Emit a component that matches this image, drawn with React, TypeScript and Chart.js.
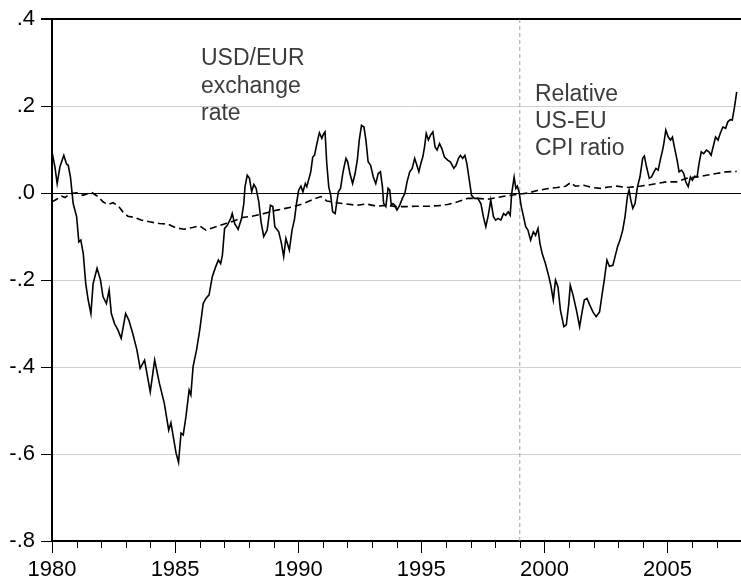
import React, { useEffect, useRef } from "react";
import { Chart, registerables } from "chart.js";

Chart.register(...registerables);

// USD/EUR exchange rate (log deviation)
const fxYears = [
  1980.0, 1980.12, 1980.21, 1980.32, 1980.48, 1980.59, 1980.66, 1980.75, 1980.86, 1981.0,
  1981.09, 1981.17, 1981.27, 1981.37, 1981.47, 1981.58, 1981.67, 1981.83, 1981.97, 1982.07,
  1982.21, 1982.32, 1982.41, 1982.54, 1982.68, 1982.81, 1982.99, 1983.12, 1983.28, 1983.45,
  1983.58, 1983.76, 1983.99, 1984.17, 1984.36, 1984.56, 1984.74, 1984.83, 1984.97, 1985.04,
  1985.14, 1985.24, 1985.33, 1985.44, 1985.57, 1985.64, 1985.73, 1985.87, 1986.0, 1986.14,
  1986.25, 1986.38, 1986.51, 1986.65, 1986.76, 1986.85, 1986.92, 1987.01, 1987.12, 1987.26,
  1987.32, 1987.42, 1987.56, 1987.7, 1987.79, 1987.84, 1987.93, 1988.02, 1988.11, 1988.2,
  1988.29, 1988.4, 1988.49, 1988.6, 1988.74, 1988.87, 1988.97, 1989.05, 1989.21, 1989.32,
  1989.41, 1989.5, 1989.64, 1989.75, 1989.85, 1989.93, 1990.02, 1990.11, 1990.19, 1990.29,
  1990.35, 1990.42, 1990.51, 1990.59, 1990.66, 1990.76, 1990.86, 1990.96, 1991.03, 1991.09,
  1991.16, 1991.24, 1991.32, 1991.4, 1991.5, 1991.56, 1991.63, 1991.72, 1991.81, 1991.86,
  1991.94, 1992.01, 1992.1, 1992.21, 1992.31, 1992.4, 1992.48, 1992.57, 1992.67, 1992.75,
  1992.84, 1992.94, 1993.05, 1993.15, 1993.25, 1993.34, 1993.42, 1993.47, 1993.56, 1993.65,
  1993.72, 1993.78, 1993.85, 1993.92, 1994.01, 1994.12, 1994.23, 1994.33, 1994.42, 1994.53,
  1994.63, 1994.73, 1994.82, 1994.9, 1995.0, 1995.06, 1995.13, 1995.2, 1995.29, 1995.37,
  1995.47, 1995.56, 1995.64, 1995.74, 1995.83, 1995.94, 1996.07, 1996.18, 1996.32, 1996.41,
  1996.51, 1996.59, 1996.68, 1996.77, 1996.85, 1996.95, 1997.04, 1997.15, 1997.29, 1997.42,
  1997.52, 1997.62, 1997.72, 1997.82, 1997.93, 1998.02, 1998.12, 1998.23, 1998.34, 1998.43,
  1998.53, 1998.61, 1998.67, 1998.77, 1998.84, 1998.9, 1998.97, 1999.06, 1999.14, 1999.24,
  1999.33, 1999.44, 1999.55, 1999.64, 1999.74, 1999.82, 1999.91, 2000.04, 2000.18, 2000.27,
  2000.36, 2000.45, 2000.55, 2000.65, 2000.79, 2000.89, 2000.99, 2001.05, 2001.16, 2001.3,
  2001.43, 2001.53, 2001.62, 2001.73, 2001.84, 2001.97, 2002.1, 2002.24, 2002.33, 2002.43,
  2002.54, 2002.64, 2002.78, 2002.87, 2002.97, 2003.07, 2003.18, 2003.27, 2003.37, 2003.44,
  2003.51, 2003.59, 2003.68, 2003.78, 2003.88, 2003.99, 2004.06, 2004.15, 2004.26, 2004.35,
  2004.45, 2004.53, 2004.62, 2004.72, 2004.8, 2004.85, 2004.93, 2005.03, 2005.12, 2005.2,
  2005.29, 2005.39, 2005.47, 2005.57, 2005.66, 2005.74, 2005.84, 2005.93, 2006.01, 2006.1,
  2006.2, 2006.28, 2006.37, 2006.47, 2006.58, 2006.68, 2006.77, 2006.87, 2006.95, 2007.05,
  2007.14, 2007.25, 2007.36, 2007.45, 2007.55, 2007.63, 2007.72, 2007.81,
];
const fxValues = [
  0.095, 0.06, 0.022, 0.06, 0.087, 0.067, 0.064, 0.037, -0.024, -0.054,
  -0.112, -0.108, -0.139, -0.208, -0.246, -0.277, -0.208, -0.173, -0.2, -0.238,
  -0.254, -0.223, -0.277, -0.3, -0.315, -0.334, -0.277, -0.292, -0.323, -0.361,
  -0.403, -0.384, -0.457, -0.384, -0.437, -0.483, -0.545, -0.528, -0.575, -0.598,
  -0.619, -0.552, -0.556, -0.514, -0.453, -0.464, -0.399, -0.361, -0.315, -0.254,
  -0.242, -0.234, -0.192, -0.169, -0.154, -0.162, -0.143, -0.081, -0.074, -0.058,
  -0.047, -0.07, -0.083, -0.058, -0.024, 0.015, 0.041, 0.034, 0.003, 0.02,
  0.011, -0.02, -0.066, -0.1, -0.085, -0.028, -0.031, -0.077, -0.089, -0.116,
  -0.146, -0.104, -0.131, -0.085, -0.06, -0.024, 0.007, 0.016, 0.003, 0.022,
  0.015, 0.03, 0.049, 0.083, 0.087, 0.114, 0.139, 0.126, 0.136, 0.141,
  0.068, 0.015, -0.005, -0.043, -0.047, -0.024, 0.003, 0.011, 0.045, 0.06,
  0.08, 0.072, 0.045, 0.022, 0.045, 0.076, 0.122, 0.156, 0.152, 0.122,
  0.072, 0.064, 0.037, 0.022, 0.045, 0.049, 0.015, -0.024, -0.031, 0.011,
  0.007, -0.028, -0.024, -0.028, -0.039, -0.028, -0.012, -0.001, 0.026, 0.049,
  0.057, 0.08, 0.064, 0.049, 0.072, 0.083, 0.106, 0.137, 0.122, 0.133,
  0.141, 0.106, 0.099, 0.114, 0.103, 0.083, 0.076, 0.072, 0.057, 0.064,
  0.08, 0.087, 0.08, 0.087, 0.068, 0.03, -0.005, -0.012, -0.012, -0.024,
  -0.054, -0.077, -0.051, -0.016, -0.054, -0.062, -0.058, -0.062, -0.047, -0.051,
  -0.043, -0.051, -0.001, 0.037, 0.011, 0.016, 0.003, -0.031, -0.051, -0.077,
  -0.085, -0.108, -0.089, -0.097, -0.081, -0.116, -0.139, -0.162, -0.192, -0.215,
  -0.246, -0.2, -0.215, -0.269, -0.307, -0.303, -0.254, -0.212, -0.234, -0.269,
  -0.307, -0.273, -0.246, -0.242, -0.257, -0.273, -0.284, -0.273, -0.238, -0.2,
  -0.154, -0.168, -0.166, -0.146, -0.123, -0.108, -0.085, -0.056, -0.008, 0.007,
  -0.016, -0.035, -0.024, 0.015, 0.037, 0.08, 0.085, 0.06, 0.034, 0.037,
  0.049, 0.057, 0.053, 0.08, 0.099, 0.114, 0.145, 0.129, 0.122, 0.129,
  0.103, 0.076, 0.049, 0.053, 0.045, 0.026, 0.015, 0.037, 0.03, 0.039,
  0.037, 0.068, 0.095, 0.091, 0.099, 0.095, 0.087, 0.11, 0.129, 0.122,
  0.137, 0.152, 0.149, 0.164, 0.169, 0.168, 0.198, 0.233,
];

// Relative US-EU CPI ratio
const cpiYears = [
  1980.0, 1980.19, 1980.39, 1980.53, 1980.73, 1981.0, 1981.26, 1981.6, 1981.87, 1982.07,
  1982.27, 1982.48, 1982.68, 1982.88, 1983.08, 1983.35, 1983.62, 1983.96, 1984.36, 1984.7,
  1985.04, 1985.37, 1985.71, 1985.98, 1986.25, 1986.51, 1986.79, 1987.06, 1987.39, 1987.73,
  1988.13, 1988.47, 1988.8, 1989.14, 1989.48, 1989.81, 1990.22, 1990.62, 1990.92, 1991.16,
  1991.56, 1991.97, 1992.37, 1992.77, 1993.18, 1993.58, 1993.98, 1994.39, 1994.79, 1995.27,
  1995.68, 1996.07, 1996.48, 1996.88, 1997.29, 1997.7, 1998.09, 1998.5, 1998.9, 1999.31,
  1999.71, 2000.1, 2000.52, 2000.86, 2001.06, 2001.26, 2001.6, 2001.93, 2002.27, 2002.6,
  2002.94, 2003.34, 2003.75, 2004.15, 2004.56, 2004.96, 2005.36, 2005.77, 2006.17, 2006.58,
  2006.98, 2007.38, 2007.81,
];
const cpiValues = [
  -0.02, -0.014, -0.007, -0.01, -0.001, 0.001, -0.005, 0.002, -0.008, -0.02,
  -0.026, -0.022, -0.029, -0.043, -0.053, -0.056, -0.062, -0.066, -0.07, -0.071,
  -0.08, -0.083, -0.079, -0.075, -0.085, -0.08, -0.075, -0.07, -0.064, -0.056,
  -0.053, -0.049, -0.044, -0.039, -0.035, -0.031, -0.024, -0.014, -0.008, -0.018,
  -0.022, -0.025, -0.028, -0.025, -0.03, -0.028, -0.031, -0.031, -0.03, -0.03,
  -0.029, -0.026, -0.02, -0.012, -0.012, -0.014, -0.01, -0.006, -0.003, 0.0,
  0.006, 0.01, 0.013, 0.016, 0.024, 0.016, 0.018, 0.013, 0.011, 0.014,
  0.016, 0.013, 0.015, 0.018, 0.022, 0.026, 0.026, 0.034, 0.037, 0.041,
  0.045, 0.049, 0.05,
];

const euroStartYear = 1999;
const yTicks = [-0.8, -0.6, -0.4, -0.2, 0, 0.2, 0.4];
const xMin = 1980;
const xMax = 2009;

const fxLabel = ["USD/EUR", "exchange", "rate"];
const cpiLabel = ["Relative", "US-EU", "CPI ratio"];

const FONT = "'Liberation Sans', Arial, Helvetica, sans-serif";

function fmtY(v: number): string {
  if (Math.abs(v) < 1e-9) return ".0";
  const s = v.toFixed(1);
  return s.replace("0.", ".");
}

export default function App() {
  const ref = useRef<HTMLCanvasElement | null>(null);

  useEffect(() => {
    const canvas = ref.current;
    if (!canvas) return;

    const annotations = {
      id: "annotations",
      afterDraw(chart: any) {
        const ctx = chart.ctx;
        const xs = chart.scales.x;
        const area = chart.chartArea;
        ctx.save();
        // minor year ticks
        ctx.strokeStyle = "#000";
        ctx.lineWidth = 1;
        for (let yr = xMin; yr <= xMax; yr++) {
          if (yr % 5 === 0) continue;
          const px = Math.round(xs.getPixelForValue(yr)) + 0.5;
          ctx.beginPath();
          ctx.moveTo(px, area.bottom);
          ctx.lineTo(px, area.bottom + 7);
          ctx.stroke();
        }
        // text labels
        ctx.fillStyle = "#3c3c3c";
        ctx.font = `23px ${FONT}`;
        ctx.textAlign = "left";
        ctx.textBaseline = "alphabetic";
        fxLabel.forEach((t, i) => ctx.fillText(t, 201, 65 + i * 27.5));
        cpiLabel.forEach((t, i) => ctx.fillText(t, 535, 101 + i * 27.2));
        ctx.restore();
      },
    };

    const chart = new Chart(canvas, {
      type: "line",
      data: {
        datasets: [
          {
            label: "USD/EUR exchange rate",
            data: fxYears.map((x, i) => ({ x, y: fxValues[i] })),
            borderColor: "#000",
            borderWidth: 1.6,
            pointRadius: 0,
            tension: 0,
            order: 1,
          },
          {
            label: "Relative US-EU CPI ratio",
            data: cpiYears.map((x, i) => ({ x, y: cpiValues[i] })),
            borderColor: "#000",
            borderWidth: 1.6,
            borderDash: [7, 4],
            pointRadius: 0,
            tension: 0,
            order: 2,
          },
          {
            label: "euro",
            data: [
              { x: euroStartYear, y: yTicks[0] },
              { x: euroStartYear, y: yTicks[yTicks.length - 1] },
            ],
            borderColor: "#a0a0a0",
            borderWidth: 1,
            borderDash: [4, 3],
            pointRadius: 0,
            order: 5,
          },
        ],
      },
      options: {
        animation: false,
        responsive: false,
        maintainAspectRatio: false,
        layout: { padding: { top: 19, left: 0, right: 0, bottom: 0 } },
        plugins: {
          legend: { display: false },
          tooltip: { enabled: false },
        },
        scales: {
          x: {
            type: "linear",
            min: xMin,
            max: xMax,
            afterFit: (s: any) => {
              s.height = 41;
            },
            ticks: {
              stepSize: 1,
              autoSkip: false,
              maxRotation: 0,
              padding: 4,
              color: "#000",
              font: { family: FONT, size: 22 },
              callback: (v: any) => (Number(v) % 5 === 0 ? String(v) : ""),
            },
            grid: {
              drawOnChartArea: false,
              drawTicks: true,
              tickLength: 12,
              tickColor: (c: any) =>
                Number(c.tick?.value) % 5 === 0 ? "#000" : "rgba(0,0,0,0)",
              tickWidth: 1,
            },
            border: { display: true, color: "#000", width: 2 },
          },
          y: {
            type: "linear",
            min: yTicks[0],
            max: yTicks[yTicks.length - 1],
            afterFit: (s: any) => {
              s.width = 52;
            },
            afterBuildTicks: (s: any) => {
              s.ticks = yTicks.map((v) => ({ value: v }));
            },
            ticks: {
              padding: 6,
              color: "#000",
              font: { family: FONT, size: 22 },
              callback: (v: any) => fmtY(Number(v)),
            },
            grid: {
              drawTicks: true,
              tickLength: 11,
              tickColor: "#000",
              color: (c: any) => {
                const v = Number(c.tick?.value);
                if (Math.abs(v) < 1e-9) return "#000";
                if (Math.abs(v - 0.4) < 1e-9) return "#000";
                if (Math.abs(v + 0.8) < 1e-9) return "#000";
                return "#d0d0d0";
              },
              lineWidth: (c: any) => {
                const v = Number(c.tick?.value);
                if (Math.abs(v - 0.4) < 1e-9) return 2;
                return 1;
              },
            },
            border: { display: true, color: "#000", width: 2 },
          },
        },
      },
      plugins: [annotations],
    } as any);

    return () => chart.destroy();
  }, []);

  return (
    <div
      style={{
        position: "fixed",
        left: 0,
        top: 0,
        width: 741,
        height: 582,
        overflow: "hidden",
        background: "#fff",
      }}
    >
      <canvas ref={ref} width={770} height={582} style={{ display: "block" }} />
    </div>
  );
}
